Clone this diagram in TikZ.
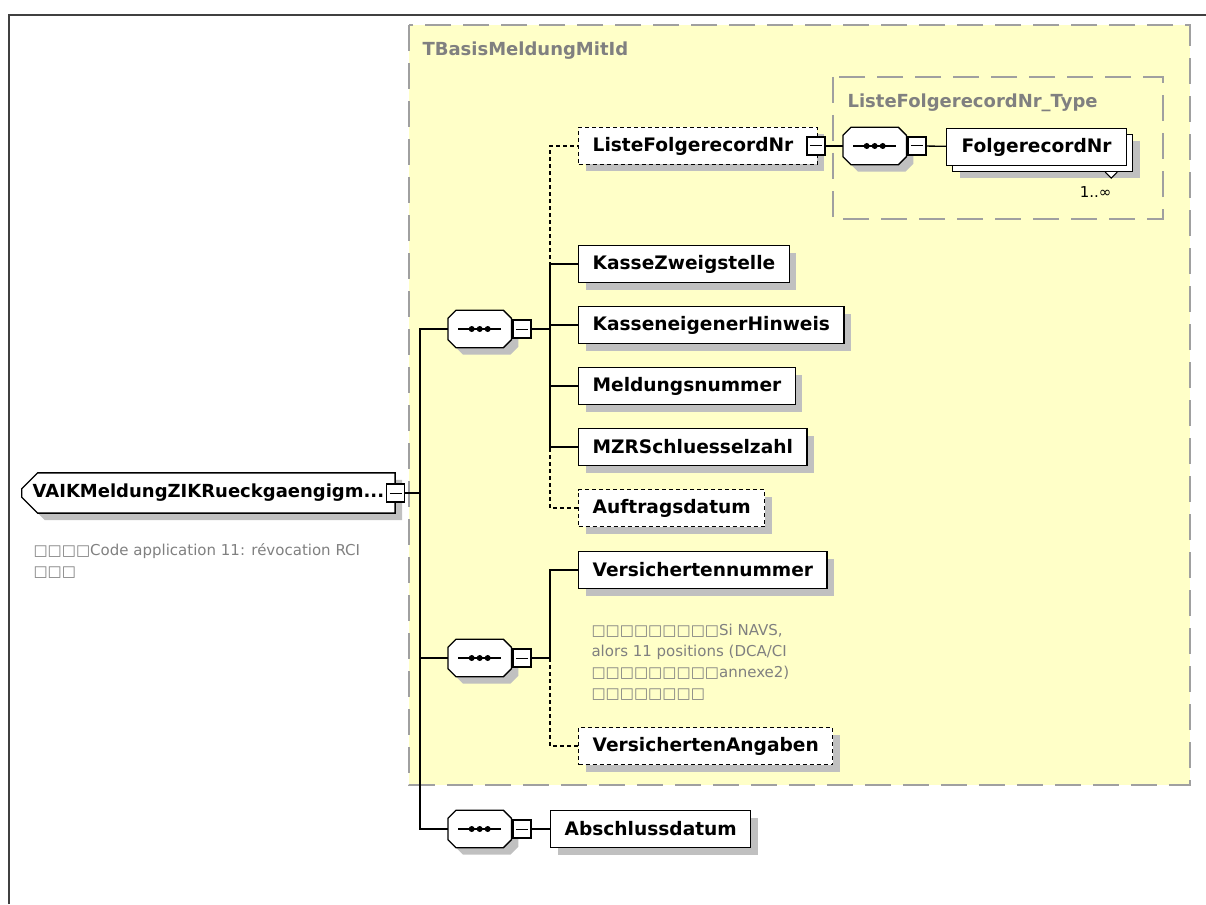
\documentclass[tikz,border=0pt]{standalone}
\usepackage{fontspec}
\setmainfont{DejaVu Sans}
\usepackage{tikz}
\usetikzlibrary{shapes.misc}
\usetikzlibrary{shadows}
\usetikzlibrary{calc}
\usetikzlibrary{positioning}

\definecolor{gelb}{RGB}{255,255,200}
\definecolor{typrand}{RGB}{160,160,160}
\definecolor{typtext}{RGB}{128,128,128}
\definecolor{schattengrau}{RGB}{192,192,192}
\definecolor{rand}{RGB}{64,64,64}

% Umriss eines Sequenz-Symbols (Achteck um den Knoten #1)
\newcommand{\achteck}[1]{($(#1.north west)+(8,0)$) -- ($(#1.north east)+(-8,0)$)
  -- ($(#1.north east)+(0,8)$) -- ($(#1.south east)+(0,-8)$) -- ($(#1.south east)+(-8,0)$)
  -- ($(#1.south west)+(8,0)$) -- ($(#1.south west)+(0,-8)$) -- ($(#1.north west)+(0,8)$) -- cycle}

\tikzset{
  schatten/.style={drop shadow={shadow xshift=7pt, shadow yshift=-7pt, fill=schattengrau, opacity=1}},
  elemplain/.style={draw, line width=1.3pt, fill=white, anchor=west, minimum height=37,
    inner xsep=14, font=\fontsize{18.6}{20}\selectfont\bfseries},
  elem/.style={elemplain, schatten},
  opt/.style={dash pattern=on 4pt off 3pt},
  seq/.style={minimum width=63, minimum height=37, inner sep=0, anchor=west},
  minus/.style={draw, line width=1.1pt, fill=white, minimum size=18, inner sep=0,
    path picture={\draw[line width=1pt] ([xshift=3]path picture bounding box.west)
      -- ([xshift=-3]path picture bounding box.east);}},
  wurzel/.style={chamfered rectangle, chamfered rectangle corners={north west,south west},
    chamfered rectangle xsep=8pt, chamfered rectangle ysep=8pt, draw, line width=1.3pt,
    fill=white, anchor=west, minimum height=39, inner xsep=3, schatten,
    font=\fontsize{18}{20}\selectfont\bfseries},
  typbox/.style={draw=typrand, line width=2pt, dash pattern=on 26pt off 12pt},
  typlabel/.style={anchor=west, text=typtext, font=\fontsize{18}{20}\selectfont\bfseries},
  notiz/.style={anchor=west, align=left, text=typtext, font=\fontsize{15}{21}\selectfont},
  conn/.style={line width=1.3pt},
  optconn/.style={conn, opt}
}

\begin{document}
\begin{tikzpicture}[x=1pt,y=-1pt]
  \useasboundingbox (0,0) rectangle (1206,904);
  % Rahmen
  \draw[line width=1.5pt, draw=rand] (9,904) -- (9,15) -- (1206,15);
  % Typen
  \draw[typbox, fill=gelb] (409,25) rectangle (1190,785);
  \node[typlabel] (tbasis) at (419,51) {TBasisMeldungMitId};
  \draw[typbox] (833,77) rectangle (1163,219);
  \node[typlabel] (listetyp) at (844,103) {ListeFolgerecordNr\_Type};

  % Wurzel
  \node[wurzel] (root) at (21,493) {VAIKMeldungZIKRueckgaengigm...};
  \node[minus] (root-m) at (root.east) {};
  \node[notiz] (rootnote) at (30,561) {□□□□Code application 11: révocation RCI\\□□□};

  % Sequenzen
  \foreach \n/\x/\y in {seqA/448/329, seqB/448/658, seqC/448/829, seqD/843/146}
  {
    \node[seq] (\n) at (\x,\y) {};
    \fill[fill=schattengrau, transform canvas={shift={(7pt,-7pt)}}] \achteck{\n};
    \draw[line width=1.3pt, fill=white] \achteck{\n};
    \draw[line width=1.2pt] ($(\n.west)+(10,0)$) -- ($(\n.east)+(-10,0)$);
    \foreach \d in {-8,0,8}
      \fill ($(\n.center)+(\d,0)$) circle (3);
    \node[minus, right=1pt of \n] (\n-m) {};
  }

  % Elemente
  \foreach \n/\y/\t in {kasse/264/KasseZweigstelle, hinweis/325/KasseneigenerHinweis,
    nummer/386/Meldungsnummer, mzr/447/MZRSchluesselzahl, versnr/570/Versichertennummer}
    \node[elem] (\n) at (578,\y) {\t};
  \foreach \n/\y/\t in {liste/146/ListeFolgerecordNr\hspace*{10pt}, auftrag/508/Auftragsdatum,
    versang/746/VersichertenAngaben}
    \node[elem, opt] (\n) at (578,\y) {\t};
  \node[minus] (liste-m) at ([xshift=-2]liste.east) {};
  \node[elem] (abschluss) at (550,829) {Abschlussdatum};
  \node[notiz] (versnote) at (588,662)
    {□□□□□□□□□Si NAVS,\\alors 11 positions (DCA/CI\\□□□□□□□□□annexe2)\\□□□□□□□□};

  % mehrfaches Element
  \node[elem, minimum width=180] (folge-hint) at (952,153) {};
  \node[elemplain, minimum width=180] (folge) at (946,147) {FolgerecordNr};
  \draw[line width=1.1pt, fill=white] ([xshift=-28]folge-hint.south east) -- ++(6,6) -- ++(6,-6);
  \node[font=\fontsize{15}{18}\selectfont, anchor=east] (anzahl) at (1115,192) {1..∞};

  % Verbindungen
  \coordinate (stamm) at (420,493);
  \draw[conn] (root-m) -- (stamm);
  \foreach \n in {seqA, seqB, seqC}
    \draw[conn] (stamm) |- (\n);
  \coordinate (splitA) at (550,329);
  \coordinate (splitB) at (550,658);
  \draw[conn] (seqA-m) -- (splitA);
  \draw[conn] (seqB-m) -- (splitB);
  \foreach \n in {kasse, hinweis, nummer, mzr}
    \draw[conn] (splitA) |- (\n);
  \foreach \n in {liste, auftrag}
    \draw[optconn] (splitA) |- (\n);
  \draw[conn] (splitB) |- (versnr);
  \draw[optconn] (splitB) |- (versang);
  \draw[conn] (seqC-m) -- (abschluss);
  \draw[conn] (liste-m) -- (seqD);
  \draw[conn] (seqD-m) -- (folge);
\end{tikzpicture}
\end{document}
